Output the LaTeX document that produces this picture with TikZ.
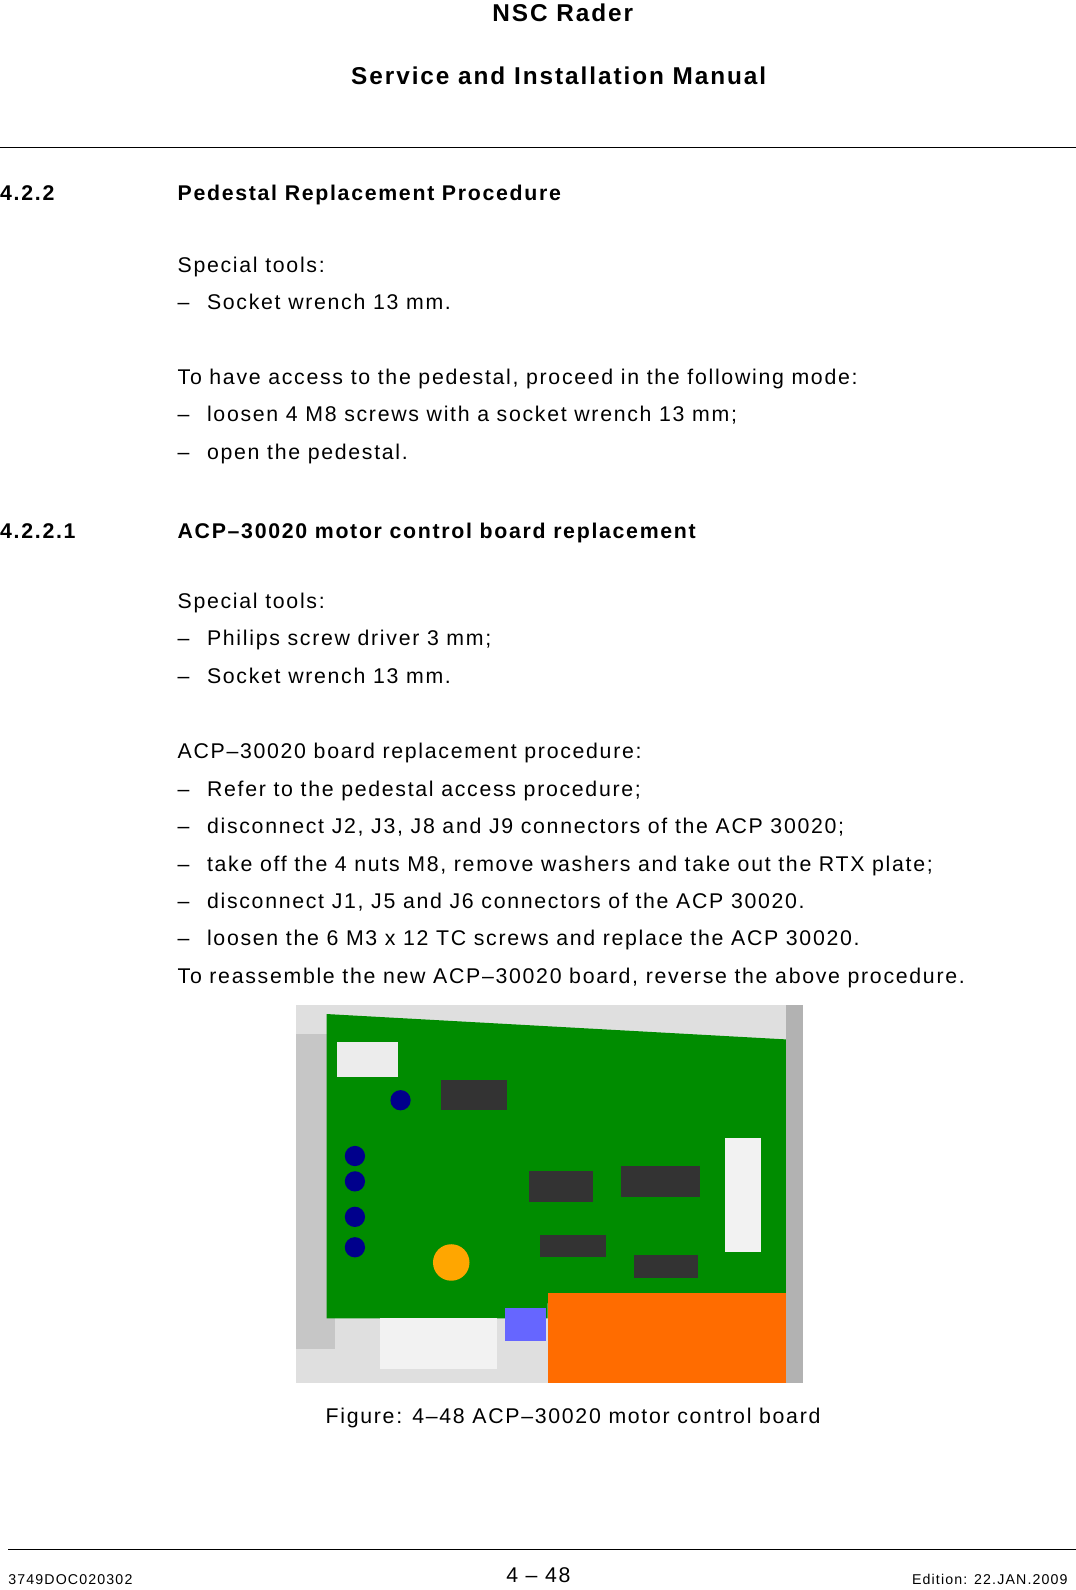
\documentclass[tikz,border=0pt]{standalone}
\usepackage{fontspec}
\setmainfont[LetterSpace=8]{Liberation Sans}
\begin{document}
\begin{tikzpicture}[x=1pt,y=-1pt,
 body/.style={anchor=base west,inner sep=0pt,font=\fontsize{21}{24}\selectfont},
 bh/.style={anchor=base west,inner sep=0pt,font=\fontsize{21}{24}\selectfont\bfseries},
 hd/.style={anchor=base,inner sep=0pt,font=\fontsize{24}{28}\selectfont\bfseries},
 ft/.style={inner sep=0pt,font=\fontsize{14}{16}\selectfont}]
\useasboundingbox (0,0) rectangle (1061,1568);
\node[hd] (h1) at (555,21) {NSC Rader};
\node[hd] (h2) at (551,83) {Service and Installation Manual};
\draw[line width=0.8pt] (0,145) -- (1061,145);
\node[bh] (s1) at (0,198) {4.2.2};
\node[bh] (t1) at (175,198) {Pedestal Replacement Procedure};
\foreach \y/\d/\t in {269/0/{Special tools:},305/1/{Socket wrench 13 mm.},379/0/{To have access to the pedestal, proceed in the following mode:},416/1/{loosen 4 M8 screws with a socket wrench 13 mm;},453/1/{open the pedestal.},600/0/{Special tools:},637/1/{Philips screw driver 3 mm;},674/1/{Socket wrench 13 mm.},748/0/{ACP--30020 board replacement procedure:},785/1/{Refer to the pedestal access procedure;},822/1/{disconnect J2, J3, J8 and J9 connectors of the ACP 30020;},859/1/{take off the 4 nuts M8, remove washers and take out the RTX plate;},896/1/{disconnect J1, J5 and J6 connectors of the ACP 30020.},932/1/{loosen the 6 M3 x 12 TC screws and replace the ACP 30020.},970/0/{To reassemble the new ACP--30020 board, reverse the above procedure.}}{
 \ifnum\d=0 \node[body] at (175,\y) {\t};
 \else \node[body] at (175,\y) {--}; \node[body] at (204,\y) {\t}; \fi}
\node[bh] (s2) at (0,531) {4.2.2.1};
\node[bh] (t2) at (175,531) {ACP--30020 motor control board replacement};
% photo
\fill[gray!25] (292,991) rectangle (792,1364);
\fill[gray!45] (292,1020) rectangle (330,1330);
\fill[green!55!black] (322,1000) -- (775,1025) -- (775,1280) -- (540,1285) -- (540,1300) -- (322,1300) -- cycle;
\fill[white!85!gray] (332,1028) rectangle (392,1062);
\fill[black!80] (435,1065) rectangle (500,1095);
\fill[black!80] (522,1155) rectangle (585,1185);
\fill[black!80] (612,1150) rectangle (690,1180);
\fill[black!80] (533,1218) rectangle (598,1240);
\fill[black!80] (625,1238) rectangle (688,1260);
\fill[white!90!gray] (715,1122) rectangle (750,1235);
\fill[orange!85!red] (540,1275) rectangle (775,1364);
\fill[blue!60] (498,1290) rectangle (538,1322);
\fill[white!90!gray] (375,1300) rectangle (490,1350);
\fill[orange!70!yellow] (445,1245) circle (18);
\foreach \cx/\cy in {395/1085,350/1140,350/1165,350/1200,350/1230}{\fill[blue!55!black] (\cx,\cy) circle (10);}
\fill[gray!60] (775,991) rectangle (792,1364);
\node[body] (cap) at (321,1404) {Figure: 4--48 ACP--30020 motor control board};
\draw[line width=0.6pt] (8,1528) -- (1061,1528);
\node[ft,anchor=base west] (f1) at (8,1563) {3749DOC020302};
\node[body,anchor=base] (f2) at (531,1561) {4 -- 48};
\node[ft,anchor=base east] (f3) at (1053,1563) {Edition: 22.JAN.2009};
\end{tikzpicture}
\end{document}
